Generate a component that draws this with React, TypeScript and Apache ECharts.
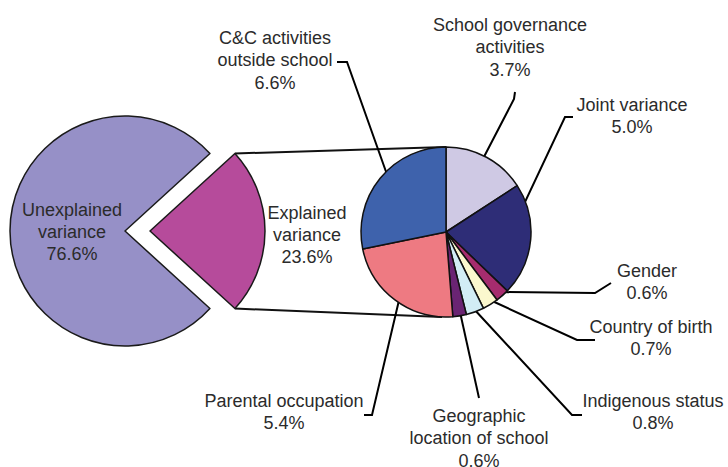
import React, { useEffect, useRef } from "react";
import * as echarts from "echarts";

// ---- data ----
const mainNames = ["Explained\nvariance", "Unexplained\nvariance"];
const mainValues = [23.6, 76.6];
const mainColors = ["#B64B9B", "#9690C7"];

const subNames = [
  "School governance\nactivities",
  "Joint variance",
  "Gender",
  "Country of birth",
  "Indigenous status",
  "Geographic\nlocation of school",
  "Parental occupation",
  "C&C activities\noutside school",
];
const subValues = [3.7, 5.0, 0.6, 0.7, 0.8, 0.6, 5.4, 6.6];
const subColors = [
  "#CFC9E4",
  "#2E2D77",
  "#A62C6E",
  "#FBF8CE",
  "#D2EDF5",
  "#6A2473",
  "#EE7A82",
  "#3E62AC",
];

// ---- layout (not data) ----
const MAIN_C = [125, 231];
const MAIN_R = 115;
const MAIN_OFFSET = 25;
const SUB_C = [446, 232];
const SUB_R = 85;

const mainLabelPos = [
  [307, 235],
  [72, 232],
];
const subLabelPos = [
  [510, 47],
  [632, 116],
  [647, 282],
  [651, 338],
  [653, 412],
  [479, 438],
  [284, 412],
  [275, 60],
];
const subLeader = [
  [[473, 178], [514, 99], [515, 92]],
  [[508, 238], [565, 117], [573, 117]],
  [[496, 292], [595, 293], [611, 283]],
  [[490, 300], [577, 340], [595, 340]],
  [[473, 308], [572, 415], [582, 415]],
  [[460, 312], [479, 398], [479, 398]],
  [[400, 296], [372, 415], [364, 415]],
  [[395, 197], [347, 62], [337, 62]],
];

const FONT = "'Liberation Sans', Arial, Helvetica, sans-serif";
const TEXT_COLOR = "#2b2b2b";

const fmt = (name: string, v: number) => name + "\n" + v.toFixed(1) + "%";

export default function App() {
  const ref = useRef<HTMLDivElement>(null);

  useEffect(() => {
    if (!ref.current) return;
    const chart = echarts.init(ref.current, undefined, { renderer: "svg" });

    const total = mainValues.reduce((a, b) => a + b, 0);
    const half = (mainValues[0] / total) * Math.PI; // half-angle of explained slice
    const apexX = MAIN_C[0] + MAIN_OFFSET;
    const topCorner = [apexX + MAIN_R * Math.cos(half), MAIN_C[1] - MAIN_R * Math.sin(half)];
    const botCorner = [apexX + MAIN_R * Math.cos(half), MAIN_C[1] + MAIN_R * Math.sin(half)];
    const subTop = [SUB_C[0], SUB_C[1] - SUB_R];
    const subBot = [SUB_C[0] - 4, SUB_C[1] + SUB_R];

    const startAngle = (mainValues[0] / total) * 180;

    chart.setOption({
      animation: false,
      backgroundColor: "#ffffff",
      graphic: [
        {
          type: "line",
          z: 1,
          shape: { x1: topCorner[0], y1: topCorner[1], x2: subTop[0], y2: subTop[1] },
          style: { stroke: "#111", lineWidth: 2 },
        },
        {
          type: "line",
          z: 1,
          shape: { x1: botCorner[0], y1: botCorner[1], x2: subBot[0], y2: subBot[1] },
          style: { stroke: "#111", lineWidth: 2 },
        },
        {
          type: "text",
          z: 10,
          x: mainLabelPos[0][0],
          y: mainLabelPos[0][1],
          style: {
            text: fmt(mainNames[0], mainValues[0]),
            fontFamily: FONT,
            fontSize: 18,
            lineHeight: 22,
            fill: TEXT_COLOR,
            align: "center",
            verticalAlign: "middle",
          },
        },
      ],
      series: [
        {
          type: "pie",
          z: 2,
          center: MAIN_C,
          radius: [0, MAIN_R],
          startAngle: startAngle,
          clockwise: true,
          selectedMode: "single",
          selectedOffset: MAIN_OFFSET,
          avoidLabelOverlap: false,
          emphasis: { disabled: true },
          itemStyle: { borderColor: "#1a1a1a", borderWidth: 1.5 },
          label: {
            show: true,
            position: "inside",
            fontFamily: FONT,
            fontSize: 18,
            lineHeight: 22,
            color: TEXT_COLOR,
            align: "center",
            formatter: (p: any) => fmt(mainNames[p.dataIndex], mainValues[p.dataIndex]),
          },
          labelLine: { show: false },
          labelLayout: (p: any) => ({
            x: mainLabelPos[p.dataIndex][0],
            y: mainLabelPos[p.dataIndex][1],
            align: "center",
            verticalAlign: "middle",
          }),
          data: mainValues.map((v, i) => ({
            value: v,
            name: mainNames[i],
            selected: i === 0,
            label: { show: i !== 0 },
            itemStyle: { color: mainColors[i] },
          })),
        },
        {
          type: "pie",
          z: 3,
          center: SUB_C,
          radius: [0, SUB_R],
          startAngle: 90,
          clockwise: true,
          avoidLabelOverlap: false,
          emphasis: { disabled: true },
          itemStyle: { borderColor: "#111", borderWidth: 1.5 },
          label: {
            show: true,
            position: "outside",
            fontFamily: FONT,
            fontSize: 18,
            lineHeight: 22.5,
            color: TEXT_COLOR,
            align: "center",
            formatter: (p: any) => fmt(subNames[p.dataIndex], subValues[p.dataIndex]),
          },
          labelLine: { show: true, lineStyle: { color: "#000", width: 2 } },
          labelLayout: (p: any) => ({
            x: subLabelPos[p.dataIndex][0],
            y: subLabelPos[p.dataIndex][1],
            align: "center",
            verticalAlign: "middle",
            labelLinePoints: subLeader[p.dataIndex],
          }),
          data: subValues.map((v, i) => ({
            value: v,
            name: subNames[i],
            itemStyle: { color: subColors[i] },
          })),
        },
      ],
    });

    return () => chart.dispose();
  }, []);

  return (
    <div
      ref={ref}
      style={{ position: "fixed", left: 0, top: 0, width: 728, height: 467 }}
    />
  );
}
